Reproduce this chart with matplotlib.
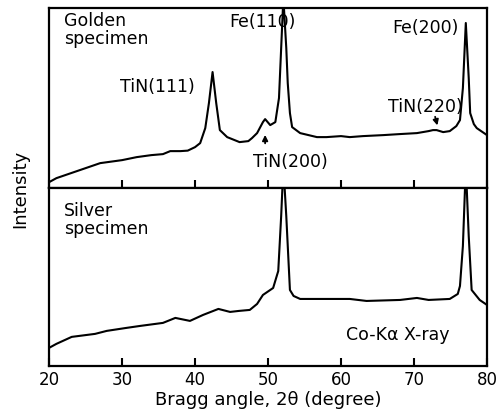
import matplotlib
matplotlib.use("Agg")
import matplotlib.pyplot as plt

# Golden specimen trace (2theta in degrees, intensity in arbitrary units)
gold_angle = [20, 21, 23, 25, 27, 30, 32, 34, 35.6, 36.6, 38, 39, 40, 40.7, 41.4,
              41.9, 42.4, 42.9, 43.4, 44.4, 46.1, 47.3, 47.8, 48.5, 49.3, 49.6,
              50.3, 51, 51.5, 51.8, 52.1, 52.5, 52.7, 53.0, 53.3, 54.4, 56.7, 58,
              60, 61.2, 63, 65.8, 68, 70.4, 72, 72.6, 73.1, 74, 74.9, 75.8, 76.3,
              76.7, 77.1, 77.5, 77.7, 78.2, 78.6, 80]
gold_int = [6, 10, 15, 20, 25, 28, 31, 33, 34, 37, 37, 37.5, 41, 45, 60,
            85, 116, 85, 58, 51, 46, 47, 50, 55, 66, 69,
            63, 66, 90, 140, 190, 140, 105, 75, 61, 55, 51, 51,
            52, 51, 52, 53, 54, 55, 57, 58, 58, 56, 57, 62, 68,
            100, 165, 110, 75, 64, 60, 53]

# Silver specimen trace
silver_angle = [20, 21, 23.1, 26.3, 27.9, 30.6, 32.5, 35.6, 37.3, 39.3, 41.1,
                43.2, 44.8, 46, 47.5, 48.5, 49.3, 50.7, 51.4, 51.8, 52.1, 52.5,
                53.0, 53.5, 54.4, 56.7, 61.2, 63.5, 68.1, 70.4, 72, 74.9, 76.0,
                76.3, 76.7, 77.1, 77.5, 77.9, 79, 80]
silver_int = [18, 22, 29, 32, 35, 38, 40, 43, 48, 45, 51,
              57, 54, 55, 56, 62, 71, 78, 95, 150, 200, 150,
              76, 70, 67, 67, 67, 65, 66, 68, 66, 67, 72,
              80, 120, 200, 130, 76, 66, 61]

x_ticks = [20, 30, 40, 50, 60, 70, 80]

fig = plt.figure(figsize=(5.01, 4.2), dpi=100)
ax_top = fig.add_axes([0.098, 0.552, 0.874, 0.429])
ax_bot = fig.add_axes([0.098, 0.129, 0.874, 0.423])

for ax in (ax_top, ax_bot):
    ax.set_xlim(20, 80)
    ax.set_xticks(x_ticks)
    ax.set_yticks([])
    ax.tick_params(axis="x", direction="in", length=6, width=1.5, labelsize=12)
    for s in ax.spines.values():
        s.set_linewidth(1.6)

ax_top.plot(gold_angle, gold_int, color="black", lw=1.5)
ax_top.set_ylim(0, 180)
ax_top.tick_params(axis="x", labelbottom=False)

ax_bot.plot(silver_angle, silver_int, color="black", lw=1.5)
ax_bot.set_ylim(0, 178)
ax_bot.set_xlabel("Bragg angle, 2θ (degree)", fontsize=13, labelpad=2)

fig.text(0.04, 0.55, "Intensity", rotation=90, ha="center", va="center", fontsize=13)

fs = 12.5
ax_top.text(22.0, 158, "Golden\nspecimen", fontsize=fs, ha="left", va="center", linespacing=1.05)
ax_top.text(34.9, 101, "TiN(111)", fontsize=fs, ha="center", va="center")
ax_top.text(49.3, 166, "Fe(110)", fontsize=fs, ha="center", va="center")
ax_top.text(71.6, 160, "Fe(200)", fontsize=fs, ha="center", va="center")
ax_top.text(71.5, 81, "TiN(220)", fontsize=fs, ha="center", va="center")
ax_top.text(53.0, 26, "TiN(200)", fontsize=fs, ha="center", va="center")
ax_top.annotate("", xy=(49.6, 56), xytext=(49.6, 42),
                arrowprops=dict(arrowstyle="-|>", color="black", lw=1.3, mutation_scale=8))
ax_top.annotate("", xy=(73.3, 60), xytext=(72.8, 74),
                arrowprops=dict(arrowstyle="-|>", color="black", lw=1.3, mutation_scale=8))

ax_bot.text(22.0, 146, "Silver\nspecimen", fontsize=fs, ha="left", va="center", linespacing=1.05)
ax_bot.text(67.8, 31, "Co-Kα X-ray", fontsize=fs, ha="center", va="center")

fig.savefig("out.png", dpi=100)
